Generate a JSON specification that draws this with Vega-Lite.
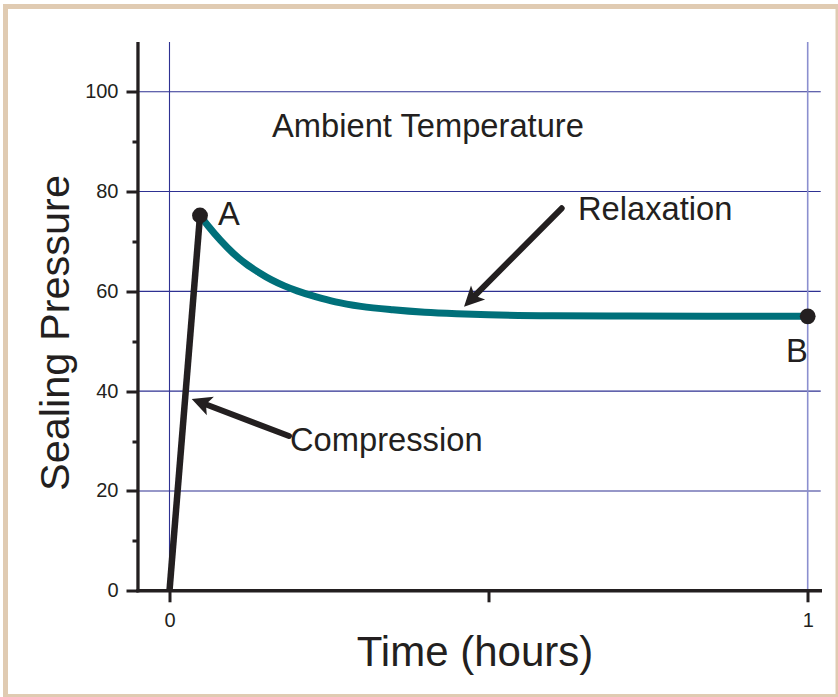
{
  "$schema": "https://vega.github.io/schema/vega-lite/v6.json",
  "width": 832.5,
  "height": 690,
  "autosize": {"type": "none"},
  "padding": {"left": 5.5, "top": 6.5, "right": 0, "bottom": 0},
  "background": "white",
  "config": {
    "view": {"fill": "white", "stroke": "#e0cbb2", "strokeWidth": 5},
    "font": "Liberation Sans",
    "axis": {"labelFont": "Liberation Sans", "titleFont": "Liberation Sans", "labelColor": "#231f20", "titleColor": "#231f20", "titleFontWeight": "normal"}
  },
  "datasets": {
    "curve": [
      {"t": 0.0478, "p": 75.2}, {"t": 0.06, "p": 73.2}, {"t": 0.08, "p": 70.2}, {"t": 0.10, "p": 67.6},
      {"t": 0.12, "p": 65.5}, {"t": 0.14, "p": 63.8}, {"t": 0.16, "p": 62.3}, {"t": 0.18, "p": 61.1},
      {"t": 0.20, "p": 60.1}, {"t": 0.23, "p": 58.9}, {"t": 0.26, "p": 57.9}, {"t": 0.30, "p": 57.0},
      {"t": 0.35, "p": 56.3}, {"t": 0.40, "p": 55.8}, {"t": 0.45, "p": 55.5}, {"t": 0.50, "p": 55.3},
      {"t": 0.60, "p": 55.1}, {"t": 0.70, "p": 55.05}, {"t": 0.85, "p": 55.0}, {"t": 1.0, "p": 55.0}
    ],
    "compression": [{"t": 0, "p": 0}, {"t": 0.0478, "p": 75.2}],
    "points": [{"t": 0.0478, "p": 75.2}, {"t": 1.0, "p": 55.0}],
    "hgrid": [{"p": 20}, {"p": 40}, {"p": 60}, {"p": 80}, {"p": 100}],
    "vgrid": [{"t": 0}, {"t": 1}],
    "arrows": [
      {"t": 0.6145, "p": 76.65, "t2": 0.4746, "p2": 58.64},
      {"t": 0.1872, "p": 31.02, "t2": 0.0523, "p2": 37.58}
    ],
    "labels": [
      {"t": 0.1606, "p": 90.9, "text": "Ambient Temperature"},
      {"t": 0.640, "p": 74.4, "text": "Relaxation"},
      {"t": 0.1888, "p": 28.1, "text": "Compression"},
      {"t": 0.0760, "p": 73.3, "text": "A"},
      {"t": 0.9659, "p": 45.85, "text": "B"}
    ]
  },
  "layer": [
    {
      "data": {"name": "hgrid"},
      "mark": {"type": "rule", "stroke": "#2e3192", "strokeWidth": 1.1},
      "encoding": {
        "x": {"datum": -0.0494, "type": "quantitative", "scale": {"domain": [-0.25697, 1.04748], "nice": false, "zero": false}},
        "x2": {"datum": 1.0204},
        "y": {"field": "p", "type": "quantitative", "scale": {"domain": [-21.19, 117.09], "nice": false, "zero": false}}
      }
    },
    {
      "data": {"name": "vgrid"},
      "mark": {"type": "rule"},
      "encoding": {
        "x": {"field": "t", "type": "quantitative", "scale": {"domain": [-0.25697, 1.04748], "nice": false, "zero": false}},
        "y": {"datum": 0, "type": "quantitative", "scale": {"domain": [-21.19, 117.09], "nice": false, "zero": false}},
        "y2": {"datum": 110},
        "stroke": {"condition": {"test": "datum.t === 1", "value": "#8b8fcf"}, "value": "#2e3192"},
        "strokeWidth": {"condition": {"test": "datum.t === 1", "value": 1.6}, "value": 1.1}
      }
    },
    {
      "data": {"values": [{}]},
      "mark": {"type": "rule", "stroke": "#231f20", "strokeWidth": 3.3},
      "encoding": {
        "x": {"datum": -0.0494, "type": "quantitative", "scale": {"domain": [-0.25697, 1.04748], "nice": false, "zero": false}},
        "y": {"datum": -0.3, "type": "quantitative", "scale": {"domain": [-21.19, 117.09], "nice": false, "zero": false}},
        "y2": {"datum": 110}
      }
    },
    {
      "data": {"values": [{}]},
      "mark": {"type": "rule", "stroke": "#231f20", "strokeWidth": 3.3},
      "encoding": {
        "y": {"datum": 0, "type": "quantitative", "scale": {"domain": [-21.19, 117.09], "nice": false, "zero": false}},
        "x": {"datum": -0.0519, "type": "quantitative", "scale": {"domain": [-0.25697, 1.04748], "nice": false, "zero": false}},
        "x2": {"datum": 1.0224}
      }
    },
    {
      "data": {"name": "curve"},
      "mark": {"type": "line", "stroke": "#00707a", "strokeWidth": 7, "interpolate": "monotone"},
      "encoding": {
        "x": {
          "field": "t", "type": "quantitative",
          "scale": {"domain": [-0.25697, 1.04748], "nice": false, "zero": false},
          "axis": {
            "values": [0, 0.5, 1],
            "format": "~g",
            "labelExpr": "datum.value === 0.5 ? '' : datum.label",
            "domain": false, "grid": false,
            "offset": -105.7,
            "tickSize": 11, "tickWidth": 3, "tickColor": "#231f20",
            "labelFontSize": 20, "labelPadding": 9,
            "title": "Time (hours)", "titleFontSize": 42,
            "titleX": 469, "titleY": 75, "titleAlign": "center", "titleBaseline": "alphabetic"
          }
        },
        "y": {
          "field": "p", "type": "quantitative",
          "scale": {"domain": [-21.19, 117.09], "nice": false, "zero": false},
          "axis": {
            "values": [0, 10, 20, 30, 40, 50, 60, 70, 80, 90, 100],
            "format": "d",
            "labelExpr": "datum.value % 20 === 0 ? datum.label : ''",
            "domain": false, "grid": false,
            "offset": -132.5,
            "tickSize": {"condition": {"test": "datum.value % 20 === 0", "value": 12}, "value": 6},
            "tickWidth": 3, "tickColor": "#231f20",
            "labelFontSize": 20, "labelPadding": 8,
            "title": "Sealing Pressure", "titleFontSize": 41.5,
            "titleAngle": 270, "titleX": -70, "titleY": 326, "titleAlign": "center", "titleBaseline": "alphabetic"
          }
        }
      }
    },
    {
      "data": {"name": "compression"},
      "mark": {"type": "line", "stroke": "#231f20", "strokeWidth": 6.5},
      "encoding": {
        "x": {"field": "t", "type": "quantitative"},
        "y": {"field": "p", "type": "quantitative"}
      }
    },
    {
      "data": {"name": "points"},
      "mark": {"type": "point", "shape": "circle", "filled": true, "size": 250, "color": "#231f20", "opacity": 1},
      "encoding": {
        "x": {"field": "t", "type": "quantitative"},
        "y": {"field": "p", "type": "quantitative"}
      }
    },
    {
      "data": {"name": "arrows"},
      "mark": {"type": "rule", "stroke": "#231f20", "strokeWidth": 6, "strokeCap": "round"},
      "encoding": {
        "x": {"field": "t", "type": "quantitative"},
        "y": {"field": "p", "type": "quantitative"},
        "x2": {"field": "t2"},
        "y2": {"field": "p2"}
      }
    },
    {
      "data": {"values": [{"t": 0.4615, "p": 56.93}]},
      "mark": {"type": "point", "shape": "M0,0L0.85,1.7L0,1.3L-0.85,1.7Z", "filled": true, "size": 550, "color": "#231f20", "opacity": 1, "angle": 224.8},
      "encoding": {
        "x": {"field": "t", "type": "quantitative"},
        "y": {"field": "p", "type": "quantitative"}
      }
    },
    {
      "data": {"values": [{"t": 0.0348, "p": 38.44}]},
      "mark": {"type": "point", "shape": "M0,0L0.85,1.7L0,1.3L-0.85,1.7Z", "filled": true, "size": 550, "color": "#231f20", "opacity": 1, "angle": 290.8},
      "encoding": {
        "x": {"field": "t", "type": "quantitative"},
        "y": {"field": "p", "type": "quantitative"}
      }
    },
    {
      "data": {"name": "labels"},
      "mark": {"type": "text", "align": "left", "baseline": "alphabetic", "fontSize": 32.7, "color": "#231f20", "font": "Liberation Sans"},
      "encoding": {
        "x": {"field": "t", "type": "quantitative"},
        "y": {"field": "p", "type": "quantitative"},
        "text": {"field": "text"}
      }
    }
  ]
}
